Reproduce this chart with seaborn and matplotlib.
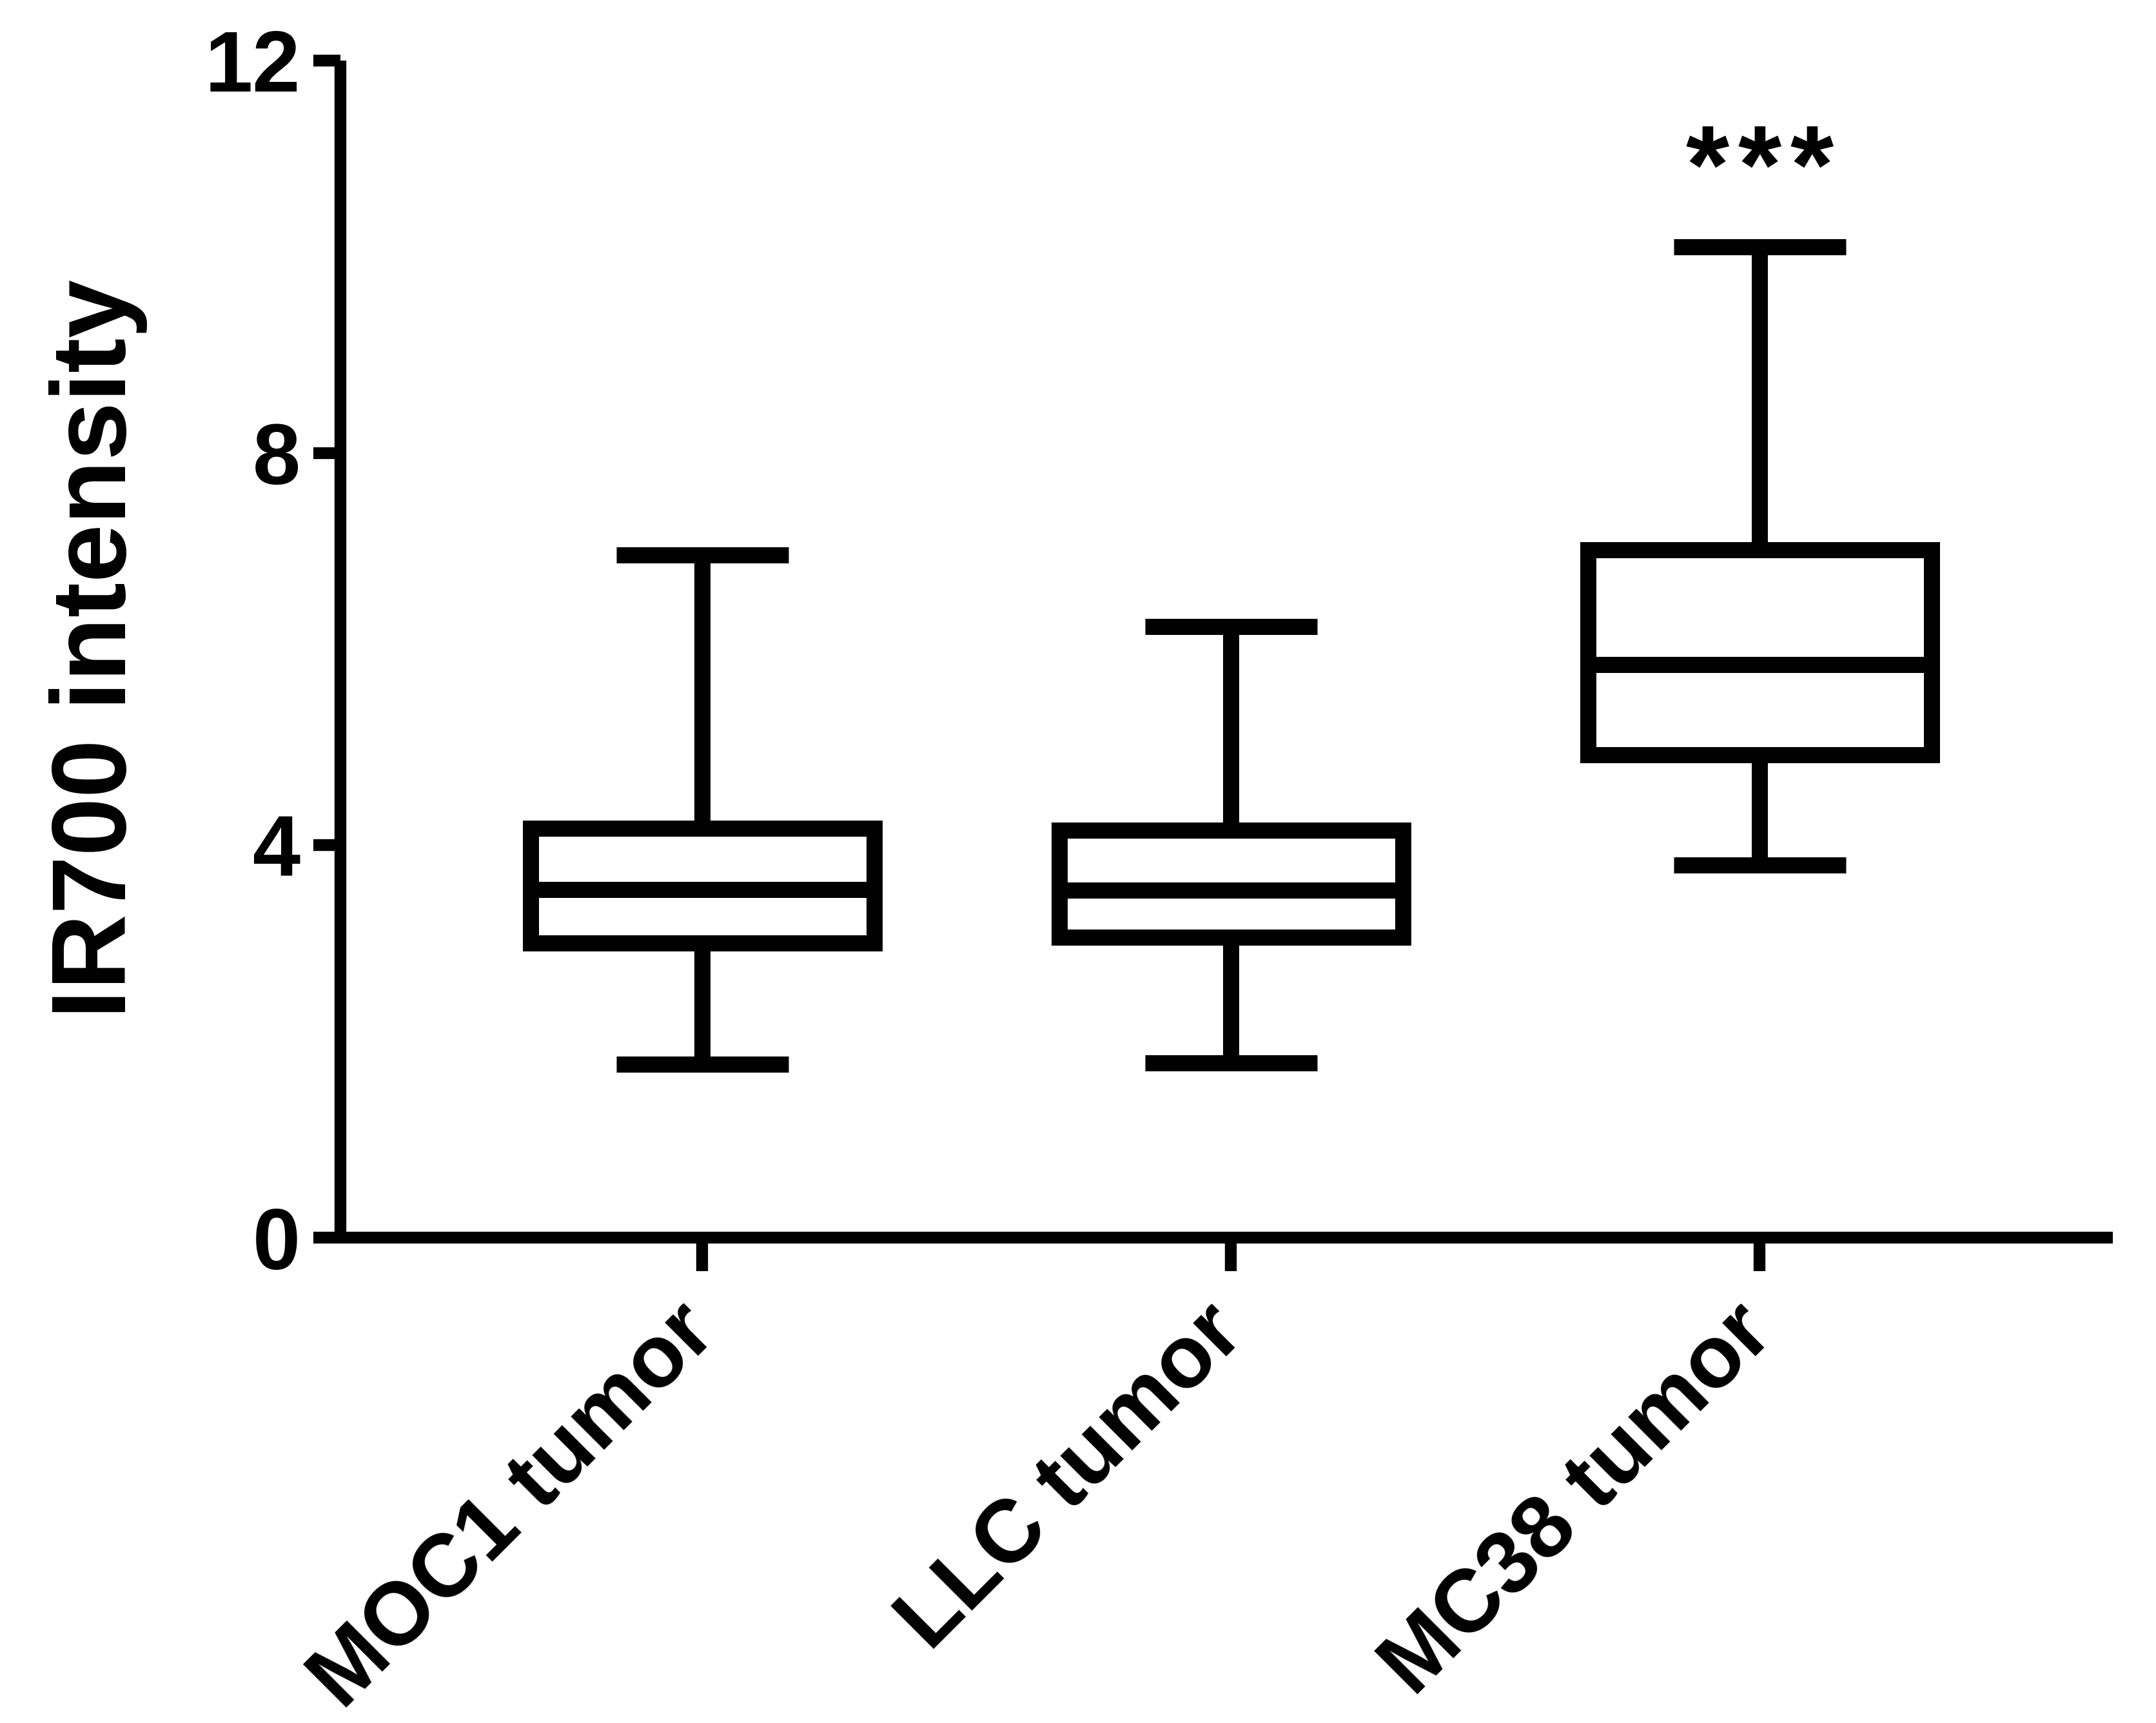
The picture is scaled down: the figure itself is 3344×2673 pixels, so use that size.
"""IR700 intensity by tumor model, box-and-whisker plot (min to max)."""

import matplotlib

matplotlib.use("Agg")

import matplotlib.pyplot as plt
import pandas as pd
import seaborn as sns

# five-number summaries: min, Q1, median, Q3, max
groups = ["MOC1 tumor", "LLC tumor", "MC38 tumor"]
moc1_summary = [1.77, 3.00, 3.55, 4.17, 6.96]
llc_summary = [1.78, 3.06, 3.54, 4.15, 6.23]
mc38_summary = [3.80, 4.92, 5.84, 7.01, 10.10]
y_ticks = [0, 4, 8, 12]
significance = "***"


def main() -> None:
    sns.set_theme(style="ticks")
    plt.rcParams["font.family"] = ["Liberation Sans", "DejaVu Sans"]
    plt.rcParams["font.weight"] = "bold"
    plt.rcParams["text.color"] = "black"
    plt.rcParams["axes.labelcolor"] = "black"

    # with 5 points and whis=(0, 100) the box stats equal the summary exactly
    df = pd.DataFrame(
        {
            "group": [g for g, s in zip(groups, [moc1_summary, llc_summary, mc38_summary]) for _ in s],
            "value": moc1_summary + llc_summary + mc38_summary,
        }
    )

    fig = plt.figure(figsize=(3344 / 300, 2673 / 300), dpi=300)
    ax = fig.add_axes([0.158, 0.2817, 0.822, 0.6832])

    lw = 6.0
    sns.boxplot(
        data=df,
        x="group",
        y="value",
        order=groups,
        color="white",
        linecolor="black",
        linewidth=lw,
        width=0.65,
        whis=(0, 100),
        showfliers=False,
        boxprops={"joinstyle": "miter"},
        capprops={"solid_capstyle": "butt"},
        whiskerprops={"solid_capstyle": "butt"},
        medianprops={"solid_capstyle": "butt"},
        ax=ax,
    )

    # significance stars above MC38, drawn one by one to get the wider spacing
    star_gap = 19.5
    n = len(significance)
    for i, star in enumerate(significance):
        ax.annotate(
            star, xy=(2, 10.55), xytext=((i - (n - 1) / 2) * star_gap, 0),
            textcoords="offset points", ha="center", va="baseline",
            fontsize=41.5, fontweight="bold", color="black",
        )

    ax.set_xlim(-0.684, 2.668)
    ax.set_ylim(0, 12)
    ax.set_yticks(y_ticks)
    ax.set_yticklabels([str(t) for t in y_ticks], fontsize=32, fontweight="bold")
    ax.set_xticks(range(len(groups)))
    ax.set_xticklabels(
        groups, rotation=45, ha="right", va="center", rotation_mode="anchor",
        fontsize=33, fontweight="bold",
    )

    ax.set_xlabel("")
    ax.set_ylabel("IR700 intensity", fontsize=39, fontweight="bold", color="black")
    ax.yaxis.set_label_coords(-0.109, 0.5)

    sns.despine(ax=ax)
    for side in ("left", "bottom"):
        ax.spines[side].set_linewidth(4.4)
        ax.spines[side].set_color("black")
        ax.spines[side].set_capstyle("butt")
    ax.tick_params(axis="y", length=10, width=4.4, pad=5, colors="black")
    ax.tick_params(axis="x", length=12.5, width=4.4, pad=18, colors="black")

    fig.savefig("out.png", dpi=300, facecolor="white")
    plt.close(fig)


if __name__ == "__main__":
    main()
